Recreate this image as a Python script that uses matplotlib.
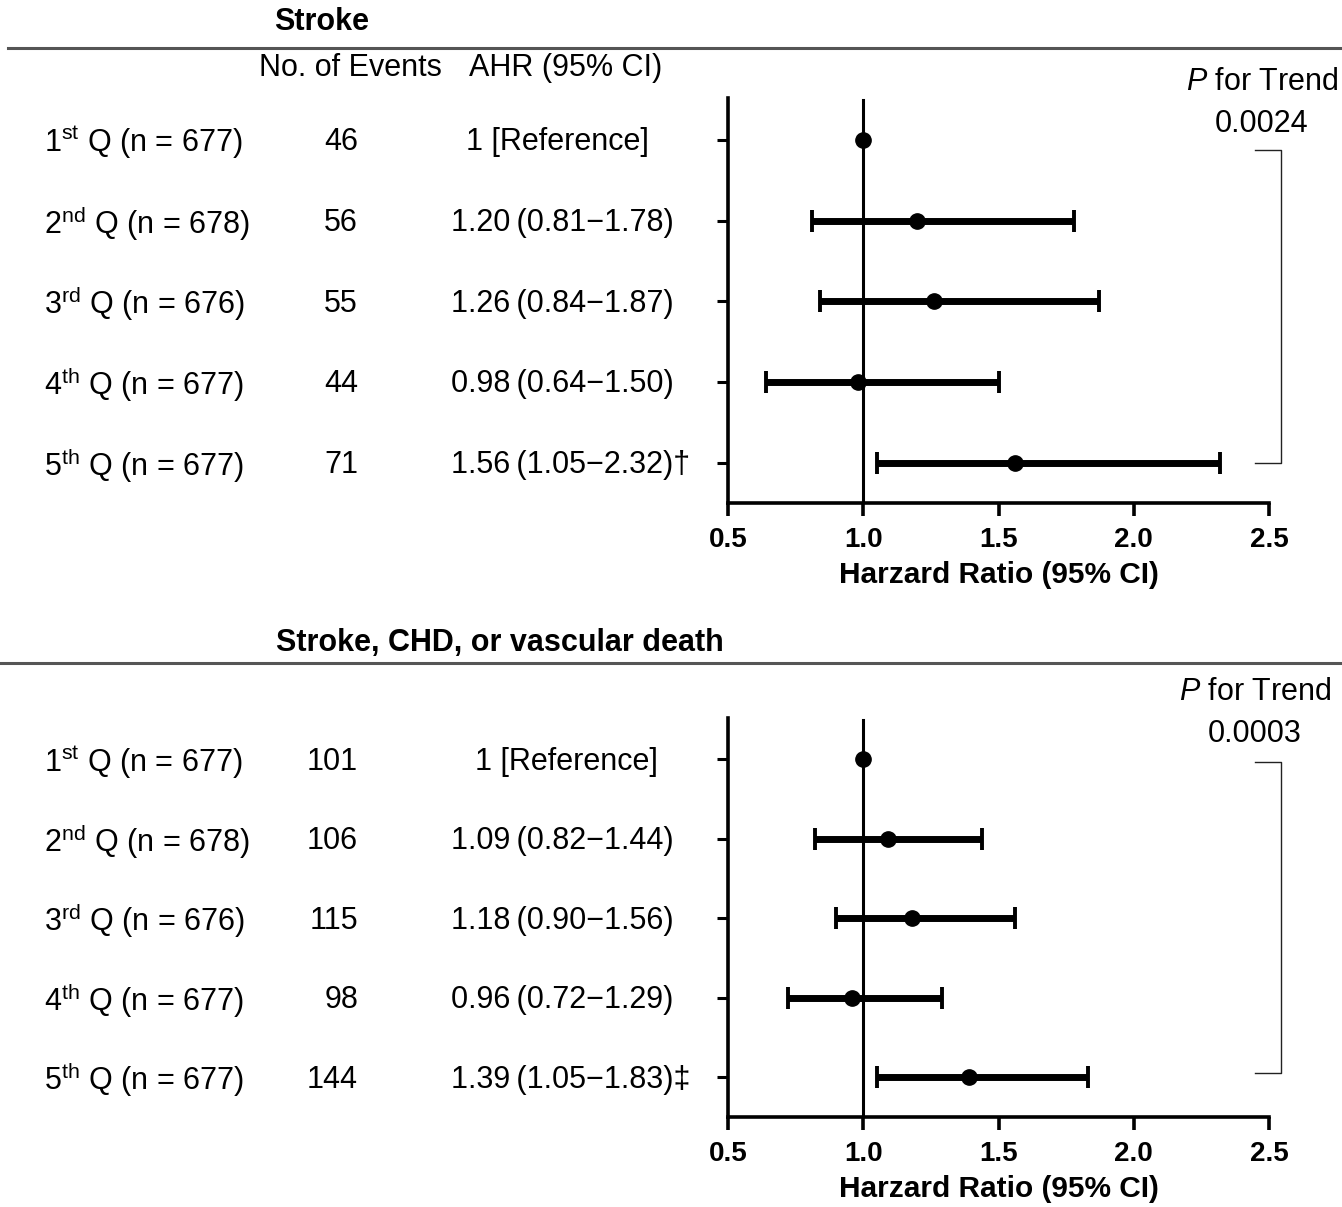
"""
Forest plot: AHR by quintile for stroke and composite outcome
"""
import numpy as np
import matplotlib.pyplot as plt
from matplotlib.transforms import blended_transform_factory

plt.rcParams['font.family'] = ['Liberation Sans', 'DejaVu Sans']
plt.rcParams['mathtext.fontset'] = 'custom'
plt.rcParams['mathtext.rm'] = 'Liberation Sans'
plt.rcParams['mathtext.it'] = 'Liberation Sans:italic'
plt.rcParams['mathtext.bf'] = 'Liberation Sans:bold'

W, H = 1342, 1207

# ---- data ----
row_labels = [r'1$^{\mathrm{st}}$ Q (n = 677)',
              r'2$^{\mathrm{nd}}$ Q (n = 678)',
              r'3$^{\mathrm{rd}}$ Q (n = 676)',
              r'4$^{\mathrm{th}}$ Q (n = 677)',
              r'5$^{\mathrm{th}}$ Q (n = 677)']

stroke_events = [46, 56, 55, 44, 71]
stroke_hr = [1.00, 1.20, 1.26, 0.98, 1.56]
stroke_lo = [np.nan, 0.81, 0.84, 0.64, 1.05]
stroke_hi = [np.nan, 1.78, 1.87, 1.50, 2.32]
stroke_marks = ['', '', '', '', '†']
stroke_p = '0.0024'

comp_events = [101, 106, 115, 98, 144]
comp_hr = [1.00, 1.09, 1.18, 0.96, 1.39]
comp_lo = [np.nan, 0.82, 0.90, 0.72, 1.05]
comp_hi = [np.nan, 1.44, 1.56, 1.29, 1.83]
comp_marks = ['', '', '', '', '‡']
comp_p = '0.0003'

x_ticks = [0.5, 1.0, 1.5, 2.0, 2.5]
x_ticklabels = ['0.5', '1.0', '1.5', '2.0', '2.5']

FS = 22

fig = plt.figure(figsize=(W / 100, H / 100), dpi=100)


def ftext(x, y, s, **kw):
    """text at figure pixel coords (y from top)"""
    kw.setdefault('va', 'center')
    kw.setdefault('fontsize', FS)
    return fig.text(x / W, 1 - y / H, s, **kw)


def draw_panel(top_px, bot_px, title, title_x, title_y, rule_y, rule_x0,
               events, hr, lo, hi, marks, p_value, p_x, p_y, ref_x,
               br_top, br_bot, headers=False):
    ax = fig.add_axes([728 / W, 1 - bot_px / H, (1269 - 728) / W,
                       (bot_px - top_px) / H])
    rows = np.arange(1, len(hr) + 1)
    hr = np.array(hr)
    lo = np.array(lo)
    hi = np.array(hi)

    ax.set_xlim(0.5, 2.5)
    ax.set_ylim(5.5, 0.48)
    ax.axvline(1.0, ymin=0, ymax=0.994, color='black', lw=2.2, zorder=1)

    ok = ~np.isnan(lo)
    ax.errorbar(hr[ok], rows[ok], xerr=[hr[ok] - lo[ok], hi[ok] - hr[ok]],
                fmt='none', ecolor='black', elinewidth=5, capsize=8,
                capthick=2.8, zorder=2)
    ax.plot(hr, rows, 'o', color='black', ms=11, zorder=3)

    for s in ['top', 'right']:
        ax.spines[s].set_visible(False)
    for s in ['left', 'bottom']:
        ax.spines[s].set_linewidth(2.6)
    ax.set_yticks(rows)
    ax.set_yticklabels([])
    ax.tick_params(axis='y', length=8, width=2.2, direction='out')
    ax.set_xticks(x_ticks)
    ax.set_xticklabels(x_ticklabels, fontsize=20, fontweight='bold')
    ax.tick_params(axis='x', length=9, width=2.6, direction='out', pad=8)
    ax.set_xlabel('Harzard Ratio (95% CI)', fontsize=21.5, fontweight='bold',
                  labelpad=6)

    # bracket for trend test
    ax.plot([2.45, 2.545, 2.545, 2.45],
            [rows[0] + br_top, rows[0] + br_top, rows[-1] + br_bot, rows[-1] + br_bot],
            color='#222222', lw=1.0, clip_on=False)

    # table columns
    tr = blended_transform_factory(fig.transFigure, ax.transData)
    for i, r in enumerate(rows):
        y = r + 0.03
        fig.text(44 / W, y, row_labels[i], transform=tr, va='center',
                 ha='left', fontsize=FS)
        fig.text(358 / W, y, str(events[i]), transform=tr, va='center',
                 ha='right', fontsize=FS)
        if np.isnan(lo[i]):
            s = '1 [Reference]'
            fig.text(ref_x / W, y, s, transform=tr, va='center', ha='left',
                     fontsize=FS)
        else:
            s = f'{hr[i]:.2f}\u2009({lo[i]:.2f}\u2212{hi[i]:.2f}){marks[i]}'
            fig.text(451 / W, y, s, transform=tr, va='center', ha='left',
                     fontsize=FS)

    # titles / rules / headers
    ftext(title_x, title_y, title, ha='center', fontweight='bold', fontsize=22)
    fig.add_artist(plt.Line2D([rule_x0 / W, 1], [1 - rule_y / H] * 2,
                              color='#555555', lw=2.2))
    if headers:
        ftext(350, 68, 'No. of Events', ha='center')
        ftext(566, 68, 'AHR (95% CI)', ha='center')
    ftext(p_x, p_y, r'$\mathit{P}$ for Trend', ha='center')
    ftext(p_x, p_y + 42, p_value, ha='center')
    return ax


draw_panel(98, 503, 'Stroke', 322, 22, 48, 8,
           stroke_events, stroke_hr, stroke_lo, stroke_hi, stroke_marks,
           stroke_p, 1262, 82, 466, 0.12, 0.0, headers=True)
draw_panel(718, 1117, 'Stroke, CHD, or vascular death', 500, 643, 663, 0,
           comp_events, comp_hr, comp_lo, comp_hi, comp_marks,
           comp_p, 1255, 692, 475, 0.03, -0.05)

plt.savefig('out.png', dpi=100)
